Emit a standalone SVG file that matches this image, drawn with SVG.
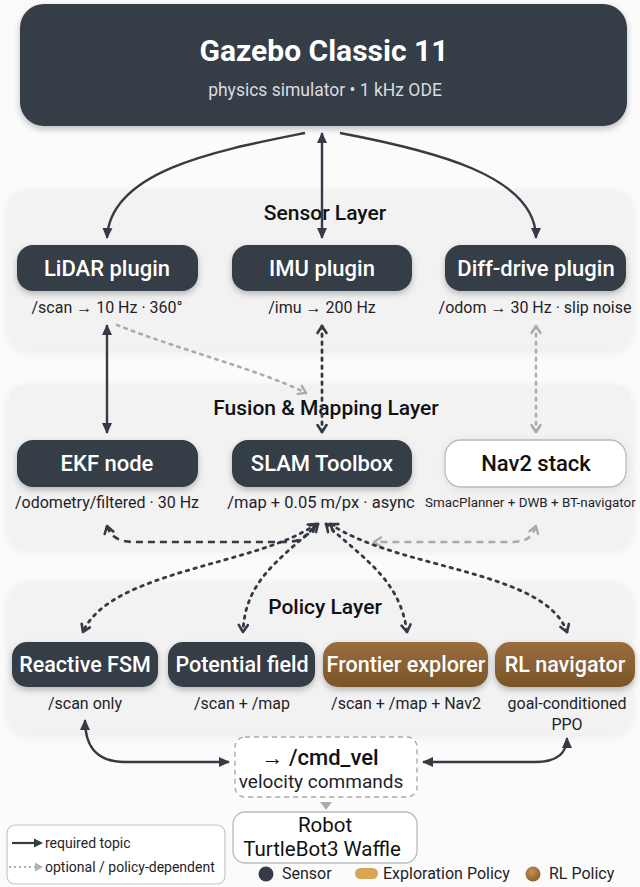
<svg xmlns="http://www.w3.org/2000/svg" width="640" height="887" viewBox="0 0 640 887">
<defs>
<filter id="sh" x="-10%" y="-20%" width="120%" height="150%"><feDropShadow dx="0" dy="3" stdDeviation="3" flood-color="#000" flood-opacity="0.25"/></filter>
<filter id="psh" x="-5%" y="-10%" width="110%" height="130%"><feDropShadow dx="0" dy="2" stdDeviation="4" flood-color="#000" flood-opacity="0.07"/></filter>
<linearGradient id="brown" x1="0" y1="0" x2="0" y2="1"><stop offset="0" stop-color="#9a6e3e"/><stop offset="1" stop-color="#7a5428"/></linearGradient>
<radialGradient id="rlDot" cx="0.4" cy="0.35" r="0.7"><stop offset="0" stop-color="#c49150"/><stop offset="1" stop-color="#8a5f2c"/></radialGradient>
<marker id="ah" markerUnits="userSpaceOnUse" markerWidth="12" markerHeight="12" refX="10" refY="6" orient="auto-start-reverse"><path d="M0,1 L11,6 L0,11 Z" fill="#343b45"/></marker>
<marker id="ch" markerUnits="userSpaceOnUse" markerWidth="12" markerHeight="12" refX="9" refY="6" orient="auto-start-reverse"><path d="M2,1.5 L9,6 L2,10.5" fill="none" stroke="#343b45" stroke-width="2.6" stroke-linecap="round" stroke-linejoin="round"/></marker>
<marker id="chg" markerUnits="userSpaceOnUse" markerWidth="12" markerHeight="12" refX="9" refY="6" orient="auto-start-reverse"><path d="M2,1.5 L9,6 L2,10.5" fill="none" stroke="#a9abae" stroke-width="2.4" stroke-linecap="round" stroke-linejoin="round"/></marker>
</defs>
<style>
.panel{fill:#f2f2f2;filter:url(#psh)}
.dark{fill:#353c46;filter:url(#sh)}
.brn{fill:url(#brown);filter:url(#sh)}
.lbl{font-family:Roboto,"Liberation Sans",sans-serif;font-weight:500;font-size:22px;fill:#ffffff;text-anchor:middle}
.plbl{font-family:Roboto,"Liberation Sans",sans-serif;font-weight:500;font-size:21.5px;fill:#ffffff;text-anchor:middle}
.sub{font-family:Roboto,"Liberation Sans",sans-serif;font-size:16px;fill:#1f2329;text-anchor:middle}
.layer{font-family:Roboto,"Liberation Sans",sans-serif;font-weight:500;font-size:21px;fill:#111;text-anchor:middle}
.solid{fill:none;stroke:#343b45;stroke-width:2.4}
.dots{fill:none;stroke:#343b45;stroke-width:2.8;stroke-dasharray:2.5 5.5;stroke-linecap:round}
.gdots{fill:none;stroke:#a9abae;stroke-width:2.6;stroke-dasharray:2.5 5.5;stroke-linecap:round}
.dash{fill:none;stroke:#343b45;stroke-width:2.6;stroke-dasharray:7 5}
.gdash{fill:none;stroke:#a9abae;stroke-width:2.6;stroke-dasharray:7 5}
.leg{font-family:Roboto,"Liberation Sans",sans-serif;font-size:14px;fill:#1f2329}
.leg2{font-family:Roboto,"Liberation Sans",sans-serif;font-size:16px;fill:#1f2329}
.big{font-family:Roboto,"Liberation Sans",sans-serif;font-weight:500;font-size:22px;fill:#111;text-anchor:middle}
.rob{font-family:Roboto,"Liberation Sans",sans-serif;font-weight:400;font-size:20.5px;fill:#111;text-anchor:middle}
</style>
<rect width="640" height="887" fill="#fbfbfb"/>

<g id="panels">
<rect class="panel" x="8" y="190" width="624" height="160" rx="18"/>
<rect class="panel" x="8" y="385" width="624" height="163" rx="18"/>
<rect class="panel" x="8" y="583" width="624" height="151" rx="18"/>
<text class="layer" x="325" y="220">Sensor Layer</text>
<text class="layer" x="326" y="415">Fusion &amp; Mapping Layer</text>
<text class="layer" x="325" y="614">Policy Layer</text>
</g>

<g id="gazebo">
<rect class="dark" x="20" y="4" width="607" height="122" rx="24"/>
<text x="324" y="61" font-family="Roboto,'Liberation Sans',sans-serif" font-weight="700" font-size="30" fill="#ffffff" text-anchor="middle">Gazebo Classic 11</text>
<text x="325" y="96" font-family="Roboto,'Liberation Sans',sans-serif" font-size="17.5" fill="#d9dce0" text-anchor="middle">physics simulator • 1 kHz ODE</text>
</g>

<g id="lidar">
<rect class="dark" x="17" y="245" width="181" height="46" rx="16"/>
<text class="lbl" x="107" y="276">LiDAR plugin</text>
<text class="sub" x="107" y="313">/scan → 10 Hz · 360°</text>
</g>
<g id="imu">
<rect class="dark" x="232" y="245" width="180" height="46" rx="16"/>
<text class="lbl" x="322" y="276">IMU plugin</text>
<text class="sub" x="322" y="313">/imu → 200 Hz</text>
</g>
<g id="diffdrive">
<rect class="dark" x="445" y="245" width="181" height="46" rx="16"/>
<text class="lbl" x="536" y="276">Diff-drive plugin</text>
<text class="sub" x="535" y="313">/odom → 30 Hz · slip noise</text>
</g>

<g id="ekf">
<rect class="dark" x="17" y="440" width="181" height="47" rx="16"/>
<text class="lbl" x="107" y="471">EKF node</text>
<text class="sub" x="107" y="508">/odometry/filtered · 30 Hz</text>
</g>
<g id="slam">
<rect class="dark" x="232" y="440" width="180" height="47" rx="16"/>
<text class="lbl" x="322" y="471">SLAM Toolbox</text>
<text class="sub" x="321" y="508" style="font-size:16.5px">/map + 0.05 m/px · async</text>
</g>
<g id="nav2">
<rect x="445" y="440" width="181" height="47" rx="16" fill="#ffffff" stroke="#b8babd" stroke-width="1.3" filter="url(#psh)"/>
<text class="lbl" x="536" y="471" style="fill:#111">Nav2 stack</text>
<text class="sub" x="425" y="507" style="font-size:13.4px;text-anchor:start">SmacPlanner + DWB + BT-navigator</text>
</g>

<g id="reactive">
<rect class="dark" x="12" y="642" width="146" height="45" rx="15"/>
<text class="plbl" x="85" y="672">Reactive FSM</text>
<text class="sub" x="85" y="709">/scan only</text>
</g>
<g id="potential">
<rect class="dark" x="168" y="642" width="147" height="45" rx="15"/>
<text class="plbl" x="242" y="672">Potential field</text>
<text class="sub" x="242" y="709">/scan + /map</text>
</g>
<g id="frontier">
<rect class="brn" x="323" y="642" width="165" height="45" rx="15"/>
<text class="plbl" x="406" y="672">Frontier explorer</text>
<text class="sub" x="406" y="709">/scan + /map + Nav2</text>
</g>
<g id="rl">
<rect class="brn" x="495" y="642" width="140" height="45" rx="15"/>
<text class="plbl" x="565" y="672">RL navigator</text>
<text class="sub" x="567" y="709">goal-conditioned</text>
<text class="sub" x="567" y="730">PPO</text>
</g>

<g id="cmdvel">
<rect x="235" y="737" width="182" height="60" rx="10" fill="#ffffff" stroke="#a9abae" stroke-width="1.4" stroke-dasharray="5 4"/>
<text class="big" x="320" y="765">→ /cmd_vel</text>
<text x="321" y="788" font-family="Roboto,'Liberation Sans',sans-serif" font-size="19" fill="#1f2329" text-anchor="middle">velocity commands</text>
</g>
<g id="robot">
<rect x="233" y="812" width="184" height="51" rx="12" fill="#ffffff" stroke="#b8babd" stroke-width="1.3"/>
<text class="rob" x="325" y="832">Robot</text>
<text class="rob" x="322" y="856">TurtleBot3 Waffle</text>
</g>

<g id="connectors">
<path class="solid" d="M305,133 C220,150 110,170 107,238" marker-end="url(#ah)"/>
<path class="solid" d="M322,238 L322,133" marker-start="url(#ah)" marker-end="url(#ah)"/>
<path class="solid" d="M340,133 C430,150 536,175 536,238" marker-end="url(#ah)"/>
<path class="solid" d="M107,325 L107,433" marker-start="url(#ah)" marker-end="url(#ah)"/>
<path class="gdots" d="M117,325 C180,350 260,370 306,393" marker-end="url(#chg)"/>
<path class="dots" d="M322,326 L322,432" marker-start="url(#ch)" marker-end="url(#ch)"/>
<path class="gdots" d="M536,326 L536,432" marker-start="url(#chg)" marker-end="url(#chg)"/>
<path class="dash" d="M316,524 C305,540 300,542 280,542 L135,542 C118,542 110,536 107,526" marker-end="url(#ch)"/>
<path class="gdash" d="M536,526 C532,538 526,542 510,542 L374,542" marker-start="url(#chg)" marker-end="url(#chg)"/>
<path class="dots" d="M316,524 C260,565 110,570 83,632" marker-start="url(#ch)" marker-end="url(#ch)"/>
<path class="dots" d="M318,524 C280,560 245,580 243,632" marker-start="url(#ch)" marker-end="url(#ch)"/>
<path class="dots" d="M326,524 C365,560 400,580 407,632" marker-start="url(#ch)" marker-end="url(#ch)"/>
<path class="dots" d="M330,524 C400,570 545,570 567,632" marker-start="url(#ch)" marker-end="url(#ch)"/>
<path class="solid" d="M85,720 C85,745 95,762 125,762 L229,762" marker-start="url(#ah)" marker-end="url(#ah)"/>
<path class="solid" d="M567,738 C567,752 558,762 535,762 L423,762" marker-start="url(#ah)" marker-end="url(#ah)"/>
<path d="M320,802 L332,802 L326,810 Z" fill="#a9abae"/>
</g>

<g id="legend">
<rect x="7" y="825" width="218" height="59" rx="8" fill="#ffffff" stroke="#c4c6c9" stroke-width="1.2"/>
<path d="M12,843 L40,843" stroke="#343b45" stroke-width="2.2"/>
<path d="M34,838.5 L43,843 L34,847.5 Z" fill="#343b45"/>
<text class="leg" x="45" y="848">required topic</text>
<path d="M9,867 L36,867" stroke="#b0b2b5" stroke-width="1.8" stroke-dasharray="2 3"/>
<path d="M35,862.5 L43,867 L35,871.5 Z" fill="#b0b2b5"/>
<text class="leg" x="45" y="872">optional / policy-dependent</text>
<circle cx="266" cy="874" r="7.5" fill="#353c46"/>
<text class="leg2" x="282" y="879">Sensor</text>
<rect x="355" y="868" width="23" height="11" rx="5.5" fill="#d9a656"/>
<text class="leg2" x="383" y="879">Exploration Policy</text>
<circle cx="533" cy="874" r="7.5" fill="url(#rlDot)"/>
<text class="leg2" x="549" y="879">RL Policy</text>
</g>
</svg>
